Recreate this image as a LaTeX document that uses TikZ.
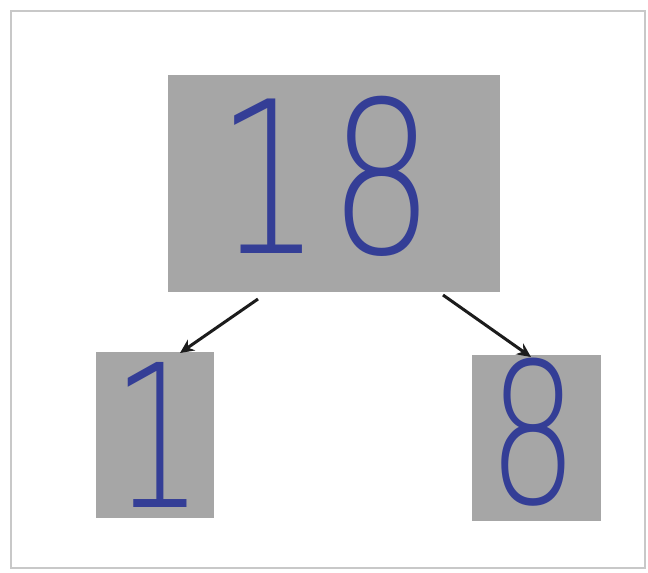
\documentclass[tikz,border=0pt]{standalone}
\usepackage{fontspec}
\newfontfamily\handfont{DejaVu Sans ExtraLight}
\usetikzlibrary{arrows.meta}
\definecolor{card}{RGB}{166,166,166}
\definecolor{ink}{RGB}{52,62,150}
\definecolor{framegray}{RGB}{200,200,200}
\definecolor{arrowc}{RGB}{28,28,28}
\tikzset{
  card/.style={rectangle, fill=card, draw=none, inner sep=0pt},
  digits/.style={text=ink, inner sep=0pt, font=\handfont},
  link/.style={draw=arrowc, line width=3pt, -{Stealth[length=14pt,width=13pt]}}
}
\begin{document}
\begin{tikzpicture}[x=1pt,y=-1pt]
\useasboundingbox (0,0) rectangle (648,573);
\fill[white] (0,0) rectangle (648,573);
\draw[framegray, line width=2pt] (11,11) rectangle (645,568);
% cards
\node[card, minimum width=332pt, minimum height=217pt] (top) at (334,183.5) {};
\node[card, minimum width=118pt, minimum height=166pt] (bl) at (155,435) {};
\node[card, minimum width=129pt, minimum height=166pt] (br) at (536.5,438) {};
% digits
\node[digits, xscale=0.78, font=\handfont\fontsize{212}{212}\selectfont] (t18) at (326,176) {1\kern10pt8};
\node[digits, xscale=0.72, font=\handfont\fontsize{199}{199}\selectfont] (d1) at (158,435) {1};
\node[digits, xscale=0.72, font=\handfont\fontsize{196}{196}\selectfont] (d8) at (533,432) {8};
% arrows
\coordinate (a1s) at (258,299);
\coordinate (a1e) at (180,353);
\coordinate (a2s) at (443,295);
\coordinate (a2e) at (531,357);
\draw[link] (a1s) -- (a1e);
\draw[link] (a2s) -- (a2e);
\end{tikzpicture}
\end{document}
